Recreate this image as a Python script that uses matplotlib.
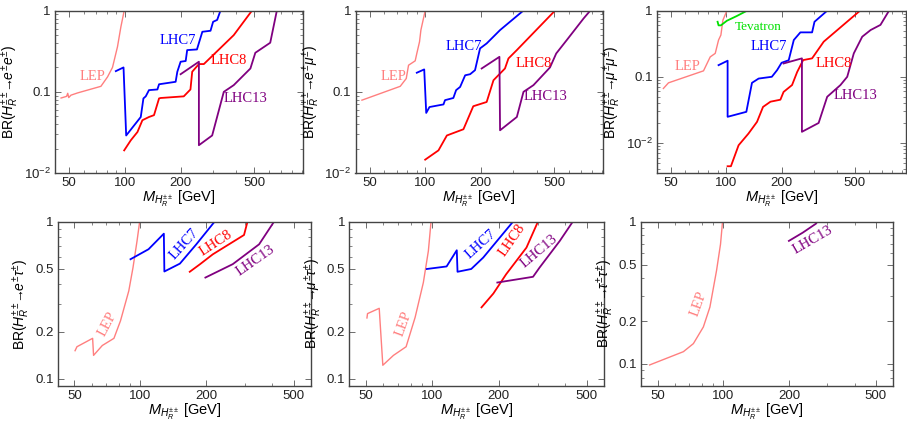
import matplotlib
matplotlib.use("Agg")
import matplotlib.pyplot as plt
from matplotlib.ticker import FixedLocator, NullFormatter, LogLocator

plt.rcParams['font.family'] = ['Liberation Sans', 'DejaVu Sans']
plt.rcParams['mathtext.fontset'] = 'custom'
plt.rcParams['mathtext.rm'] = 'Liberation Sans'
plt.rcParams['mathtext.it'] = 'Liberation Sans:italic'
plt.rcParams['mathtext.bf'] = 'Liberation Sans:bold'
plt.rcParams['mathtext.fallback'] = 'stixsans'

# colours of the limit curves
C_LEP = '#ff7f7f'
C_LHC7 = '#0000ff'
C_LHC8 = '#ff0000'
C_LHC13 = '#800080'
C_TEV = '#00e000'

# ---- top left: e e ----
ee_lep_m = [45.3, 48.5, 49.2, 49.8, 51.2, 55.6, 74.3, 80.7, 85.8, 91.3, 95.2, 99.2]
ee_lep_br = [0.084, 0.088, 0.096, 0.085, 0.091, 0.097, 0.117, 0.153, 0.20, 0.36, 0.63, 1.0]
ee_lhc7_m = [89.4, 98.4, 101.7, 121.9, 126, 129.7, 135, 149.9, 153, 188, 192, 200, 213, 217,
             245, 262, 290, 299.5, 315, 328]
ee_lhc7_br = [0.18, 0.20, 0.029, 0.049, 0.083, 0.088, 0.105, 0.107, 0.124, 0.133, 0.177, 0.235,
              0.24, 0.327, 0.333, 0.55, 0.566, 0.73, 0.77, 1.0]
ee_lhc8_m = [99.2, 107.7, 117, 124.4, 135, 143.7, 153, 156, 208, 226, 231, 251, 267, 387, 485]
ee_lhc8_br = [0.019, 0.0253, 0.032, 0.0447, 0.049, 0.0516, 0.083, 0.084, 0.088, 0.107, 0.177,
              0.22, 0.22, 0.5, 1.0]
ee_lhc13_m = [200, 251, 251, 296, 342, 387, 476, 506, 609, 661]
ee_lhc13_br = [0.165, 0.235, 0.022, 0.029, 0.1, 0.121, 0.194, 0.303, 0.403, 1.0]

# ---- top middle: e mu ----
em_lep_m = [45.5, 73.3, 79, 81.3, 88.3, 90.1, 93.2, 94.8, 100]
em_lep_br = [0.079, 0.117, 0.146, 0.213, 0.241, 0.297, 0.414, 0.577, 1.0]
em_lhc7_m = [90.1, 98.8, 101.3, 105.5, 125.6, 128, 142, 147, 154.5, 164.5, 175, 186, 198, 215,
             254, 339]
em_lhc7_br = [0.172, 0.189, 0.055, 0.065, 0.07, 0.079, 0.084, 0.105, 0.115, 0.16, 0.165, 0.185,
              0.343, 0.395, 0.577, 1.0]
em_lhc8_m = [100, 118, 131, 161, 182, 215, 234, 270, 282, 313, 503]
em_lhc8_br = [0.0146, 0.019, 0.029, 0.0346, 0.0665, 0.075, 0.139, 0.194, 0.258, 0.327, 1.0]
em_lhc13_m = [202, 252, 254, 313, 340, 385, 473, 511, 583, 719, 780]
em_lhc13_br = [0.194, 0.27, 0.0336, 0.049, 0.1, 0.121, 0.2, 0.297, 0.435, 0.804, 1.0]

# ---- top right: mu mu ----
mm_lep_m = [45.5, 48.5, 75.2, 81.8, 87.1, 90.8, 93.5, 95.9, 100.8]
mm_lep_br = [0.0666, 0.081, 0.123, 0.2, 0.226, 0.36, 0.428, 0.72, 1.0]
mm_tev_m = [89.7, 90.8, 93.5, 100.8, 114, 129.7]
mm_tev_br = [0.68, 0.60, 0.60, 0.705, 0.83, 1.0]
mm_lhc7_m = [90.8, 101.7, 101.7, 128.6, 138, 150, 177, 189, 200, 218.6, 233, 253, 293, 302, 354]
mm_lhc7_br = [0.15, 0.175, 0.0248, 0.0295, 0.081, 0.094, 0.1, 0.126, 0.163, 0.178, 0.36, 0.47,
              0.47, 0.68, 1.0]
mm_lhc8_m = [101.7, 106, 116.7, 132, 147, 158.5, 174, 197, 205, 228, 243, 262, 293, 339, 534]
mm_lhc8_br = [0.00443, 0.00443, 0.0092, 0.0138, 0.0208, 0.035, 0.042, 0.045, 0.059, 0.075,
              0.118, 0.179, 0.19, 0.34, 1.0]
mm_lhc13_m = [205, 258, 258, 318, 354, 418, 455, 494, 549, 610, 690, 768]
mm_lhc13_br = [0.159, 0.19, 0.0147, 0.02, 0.0498, 0.075, 0.1, 0.226, 0.404, 0.51, 0.61, 1.0]

# ---- bottom left: e tau ----
et_lep_m = [50.4, 51.4, 60.6, 61.2, 67.1, 75.8, 81.2, 88.6, 92.6, 96.6, 99.3]
et_lep_br = [0.151, 0.16, 0.181, 0.141, 0.163, 0.181, 0.234, 0.363, 0.511, 0.754, 1.0]
et_lhc7_m = [90.2, 109, 128, 128.7, 151.5, 180, 218]
et_lhc7_br = [0.577, 0.668, 0.839, 0.482, 0.541, 0.718, 1.0]
et_lhc8_m = [168, 187, 214, 297, 302, 308]
et_lhc8_br = [0.48, 0.536, 0.62, 0.823, 0.9, 1.0]
et_lhc13_m = [198, 264, 348, 407]
et_lhc13_br = [0.441, 0.537, 0.718, 1.0]

# ---- bottom middle: mu tau ----
mt_lep_m = [50.5, 50.8, 57.4, 59.6, 66.6, 76, 83.5, 91, 95.9, 98.6]
mt_lep_br = [0.244, 0.26, 0.281, 0.122, 0.141, 0.16, 0.246, 0.41, 0.652, 1.0]
mt_lhc7_m = [94.3, 116, 129, 130, 150, 170, 232]
mt_lhc7_br = [0.5, 0.519, 0.658, 0.48, 0.5, 0.591, 1.0]
mt_lhc8_m = [167, 189, 216, 267, 301]
mt_lhc8_br = [0.285, 0.349, 0.463, 0.684, 1.0]
mt_lhc13_m = [197, 286, 306, 378, 433]
mt_lhc13_br = [0.41, 0.446, 0.51, 0.754, 1.0]

# ---- bottom right: tau tau ----
tt_lep_m = [46, 65.7, 73, 81.1, 86.9, 93.2, 97.2, 99.3]
tt_lep_br = [0.0984, 0.122, 0.139, 0.182, 0.251, 0.453, 0.695, 1.0]
tt_lhc13_m = [200, 231.6, 266, 270]
tt_lhc13_br = [0.733, 0.838, 0.968, 1.0]

W, H = 907, 422


def make_axes(fig, x0, x1, y0, y1):
    # pixel box -> figure fraction
    return fig.add_axes([x0 / W, 1 - y1 / H, (x1 - x0) / W, (y1 - y0) / H])


def style_axes(ax, xlim, ylim, yticks, ylabels, ylabel, xlabel):
    ax.set_xscale('log')
    ax.set_yscale('log')
    ax.set_xlim(*xlim)
    ax.set_ylim(*ylim)
    ax.xaxis.set_major_locator(FixedLocator([50, 100, 200, 500]))
    ax.set_xticklabels(['50', '100', '200', '500'])
    ax.xaxis.set_minor_locator(LogLocator(subs=range(1, 10)))
    ax.xaxis.set_minor_formatter(NullFormatter())
    ax.yaxis.set_major_locator(FixedLocator(yticks))
    ax.set_yticklabels(ylabels)
    ax.yaxis.set_minor_locator(LogLocator(subs=range(1, 10)))
    ax.yaxis.set_minor_formatter(NullFormatter())
    ax.tick_params(which='both', direction='in', top=True, right=True,
                   colors='#555555', labelcolor='#222222', labelsize=9.5)
    ax.tick_params(which='major', length=4, width=0.6, pad=3)
    ax.tick_params(which='minor', length=2, width=0.5)
    for s in ax.spines.values():
        s.set_color('#444444')
        s.set_linewidth(1.0)
    ax.set_ylabel(ylabel, fontsize=10, labelpad=2)
    ax.set_xlabel(xlabel, fontsize=10.5, labelpad=0)


def label(ax, x, y, text, color, rot=0, size=10.5):
    ax.text(x, y, text, color=color, rotation=rot, ha='center', va='center',
            fontsize=size, family='Liberation Serif')


def br_label(a, b):
    return r'BR($H_R^{\pm\pm}\!\!\rightarrow\!\! ' + a + r'^{\pm}' + b + r'^{\pm}$)'


fig = plt.figure(figsize=(W / 100, H / 100), dpi=100)

xl_top = r'$M_{H_R^{\pm\pm}}$ [GeV]'
xl_bot = r'$M_{H_R^{\pm\pm}}$ [GeV]'
top_ticks = [0.01, 0.1, 1]
top_labels = [r'$10^{-2}$', '0.1', '1']
bot_ticks = [0.1, 0.2, 0.5, 1]
bot_labels = ['0.1', '0.2', '0.5', '1']

# top left
ax = make_axes(fig, 55, 303, 10.7, 173)
style_axes(ax, (42, 915), (0.01, 1), top_ticks, top_labels, br_label('e', 'e'), xl_top)
ax.plot(ee_lep_m, ee_lep_br, color=C_LEP, lw=1.0)
ax.plot(ee_lhc7_m, ee_lhc7_br, color=C_LHC7, lw=1.3)
ax.plot(ee_lhc8_m, ee_lhc8_br, color=C_LHC8, lw=1.3)
ax.plot(ee_lhc13_m, ee_lhc13_br, color=C_LHC13, lw=1.3)
label(ax, 67, 0.156, 'LEP', C_LEP)
label(ax, 192, 0.435, 'LHC7', C_LHC7)
label(ax, 364, 0.246, 'LHC8', C_LHC8)
label(ax, 447, 0.083, 'LHC13', C_LHC13)

# top middle
ax = make_axes(fig, 355.5, 603, 10.7, 173)
style_axes(ax, (42, 915), (0.01, 1), top_ticks, top_labels, br_label('e', r'\mu'), xl_top)
ax.plot(em_lep_m, em_lep_br, color=C_LEP, lw=1.0)
ax.plot(em_lhc7_m, em_lhc7_br, color=C_LHC7, lw=1.3)
ax.plot(em_lhc8_m, em_lhc8_br, color=C_LHC8, lw=1.3)
ax.plot(em_lhc13_m, em_lhc13_br, color=C_LHC13, lw=1.3)
label(ax, 67.4, 0.156, 'LEP', C_LEP)
label(ax, 161, 0.366, 'LHC7', C_LHC7)
label(ax, 385, 0.224, 'LHC8', C_LHC8)
label(ax, 445, 0.087, 'LHC13', C_LHC13)

# top right
ax = make_axes(fig, 657, 906, 10.7, 173)
style_axes(ax, (42, 950), (0.0035, 1), top_ticks, top_labels, br_label(r'\mu', r'\mu'), xl_top)
ax.plot(mm_lep_m, mm_lep_br, color=C_LEP, lw=1.0)
ax.plot(mm_tev_m, mm_tev_br, color=C_TEV, lw=1.3)
ax.plot(mm_lhc7_m, mm_lhc7_br, color=C_LHC7, lw=1.3)
ax.plot(mm_lhc8_m, mm_lhc8_br, color=C_LHC8, lw=1.3)
ax.plot(mm_lhc13_m, mm_lhc13_br, color=C_LHC13, lw=1.3)
label(ax, 61.5, 0.142, 'LEP', C_LEP)
label(ax, 150, 0.56, 'Tevatron', C_TEV, size=9.5)
label(ax, 170, 0.285, 'LHC7', C_LHC7)
label(ax, 385, 0.159, 'LHC8', C_LHC8)
label(ax, 506, 0.0515, 'LHC13', C_LHC13)

# bottom left
ax = make_axes(fig, 57.7, 311, 221.7, 386)
style_axes(ax, (42, 600), (0.09, 1), bot_ticks, bot_labels, br_label('e', r'\tau'), xl_bot)
ax.plot(et_lep_m, et_lep_br, color=C_LEP, lw=1.0)
ax.plot(et_lhc7_m, et_lhc7_br, color=C_LHC7, lw=1.3)
ax.plot(et_lhc8_m, et_lhc8_br, color=C_LHC8, lw=1.3)
ax.plot(et_lhc13_m, et_lhc13_br, color=C_LHC13, lw=1.3)
label(ax, 70.7, 0.223, 'LEP', C_LEP, rot=62)
label(ax, 158, 0.72, 'LHC7', C_LHC7, rot=48)
label(ax, 222, 0.725, 'LHC8', C_LHC8, rot=33)
label(ax, 336, 0.57, 'LHC13', C_LHC13, rot=35)

# bottom middle
ax = make_axes(fig, 349.3, 604, 221.7, 386)
style_axes(ax, (42, 600), (0.09, 1), bot_ticks, bot_labels, br_label(r'\mu', r'\tau'), xl_bot)
ax.plot(mt_lep_m, mt_lep_br, color=C_LEP, lw=1.0)
ax.plot(mt_lhc7_m, mt_lhc7_br, color=C_LHC7, lw=1.3)
ax.plot(mt_lhc8_m, mt_lhc8_br, color=C_LHC8, lw=1.3)
ax.plot(mt_lhc13_m, mt_lhc13_br, color=C_LHC13, lw=1.3)
label(ax, 74, 0.223, 'LEP', C_LEP, rot=70)
label(ax, 166, 0.72, 'LHC7', C_LHC7, rot=42)
label(ax, 230, 0.76, 'LHC8', C_LHC8, rot=55)
label(ax, 305, 0.65, 'LHC13', C_LHC13, rot=40)

# bottom right
ax = make_axes(fig, 641, 893, 221.7, 386)
style_axes(ax, (42, 600), (0.07, 1), bot_ticks, bot_labels, br_label(r'\tau', r'\tau'), xl_bot)
ax.plot(tt_lep_m, tt_lep_br, color=C_LEP, lw=1.0)
ax.plot(tt_lhc13_m, tt_lhc13_br, color=C_LHC13, lw=1.3)
label(ax, 76.9, 0.265, 'LEP', C_LEP, rot=70)
label(ax, 257, 0.74, 'LHC13', C_LHC13, rot=30)

fig.savefig('out.png', dpi=100)
